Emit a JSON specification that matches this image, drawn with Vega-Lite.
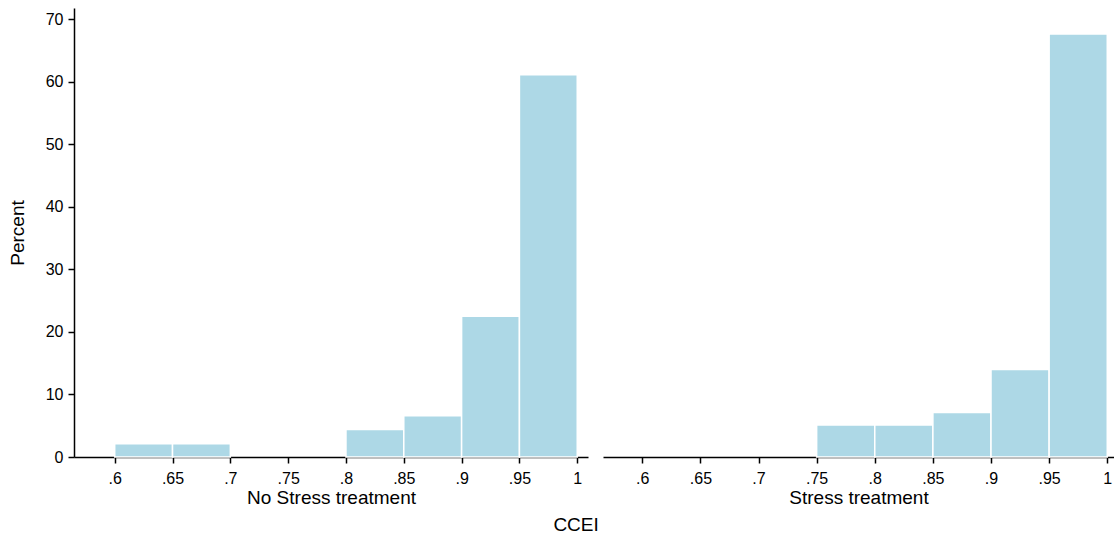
{
  "$schema": "https://vega.github.io/schema/vega-lite/v6.json",
  "padding": {"left": 8, "top": 8, "right": 0, "bottom": 2},
  "background": "white",
  "config": {
    "view": {"stroke": null},
    "font": "Liberation Sans",
    "axis": {
      "grid": false,
      "zindex": 1,
      "domainColor": "#000",
      "domainWidth": 1.5,
      "tickColor": "#000",
      "tickWidth": 1.5,
      "tickSize": 6,
      "labelFont": "Liberation Sans",
      "labelFontSize": 16,
      "labelColor": "#000",
      "titleFont": "Liberation Sans",
      "titleFontSize": 19,
      "titleFontWeight": "normal",
      "titleColor": "#000"
    }
  },
  "datasets": {
    "hist": [
      {"treatment": "No Stress", "bin_start": 0.60, "bin_end": 0.65, "percent": 2.1},
      {"treatment": "No Stress", "bin_start": 0.65, "bin_end": 0.70, "percent": 2.1},
      {"treatment": "No Stress", "bin_start": 0.80, "bin_end": 0.85, "percent": 4.4},
      {"treatment": "No Stress", "bin_start": 0.85, "bin_end": 0.90, "percent": 6.6},
      {"treatment": "No Stress", "bin_start": 0.90, "bin_end": 0.95, "percent": 22.5},
      {"treatment": "No Stress", "bin_start": 0.95, "bin_end": 1.00, "percent": 61.1},
      {"treatment": "Stress", "bin_start": 0.75, "bin_end": 0.80, "percent": 5.1},
      {"treatment": "Stress", "bin_start": 0.80, "bin_end": 0.85, "percent": 5.1},
      {"treatment": "Stress", "bin_start": 0.85, "bin_end": 0.90, "percent": 7.1},
      {"treatment": "Stress", "bin_start": 0.90, "bin_end": 0.95, "percent": 14.0},
      {"treatment": "Stress", "bin_start": 0.95, "bin_end": 1.00, "percent": 67.6}
    ]
  },
  "title": {
    "text": "CCEI",
    "orient": "bottom",
    "anchor": "middle",
    "fontSize": 19,
    "fontWeight": "normal",
    "font": "Liberation Sans",
    "color": "#000",
    "offset": 9,
    "dx": 15
  },
  "spacing": 15,
  "hconcat": [
    {
      "width": 514,
      "height": 449,
      "data": {"name": "hist"},
      "transform": [{"filter": "datum.treatment == 'No Stress'"}],
      "mark": {"type": "bar", "fill": "#ADD8E6", "stroke": "white", "strokeWidth": 1.5},
      "encoding": {
        "x": {
          "field": "bin_start",
          "type": "quantitative",
          "scale": {"domain": [0.5648, 1.0093], "nice": false, "zero": false},
          "axis": {
            "values": [0.6, 0.65, 0.7, 0.75, 0.8, 0.85, 0.9, 0.95, 1],
            "labelExpr": "datum.value == 1 ? '1' : slice(format(datum.value, '.2~f'), 1)",
            "labelPadding": 7,
            "title": "No Stress treatment",
            "titlePadding": 2
          }
        },
        "x2": {"field": "bin_end"},
        "y": {
          "field": "percent",
          "type": "quantitative",
          "scale": {"domain": [0, 71.76], "nice": false},
          "axis": {
            "values": [0, 10, 20, 30, 40, 50, 60, 70],
            "labelPadding": 5,
            "title": "Percent",
            "titlePadding": 18
          }
        },
        "y2": {"datum": 0}
      }
    },
    {
      "width": 511,
      "height": 449,
      "data": {"name": "hist"},
      "transform": [{"filter": "datum.treatment == 'Stress'"}],
      "mark": {"type": "bar", "fill": "#ADD8E6", "stroke": "white", "strokeWidth": 1.5},
      "encoding": {
        "x": {
          "field": "bin_start",
          "type": "quantitative",
          "scale": {"domain": [0.5662, 1.0058], "nice": false, "zero": false},
          "axis": {
            "values": [0.6, 0.65, 0.7, 0.75, 0.8, 0.85, 0.9, 0.95, 1],
            "labelExpr": "datum.value == 1 ? '1' : slice(format(datum.value, '.2~f'), 1)",
            "labelPadding": 7,
            "title": "Stress treatment",
            "titlePadding": 2
          }
        },
        "x2": {"field": "bin_end"},
        "y": {
          "field": "percent",
          "type": "quantitative",
          "scale": {"domain": [0, 71.76], "nice": false},
          "axis": null
        },
        "y2": {"datum": 0}
      }
    }
  ]
}
